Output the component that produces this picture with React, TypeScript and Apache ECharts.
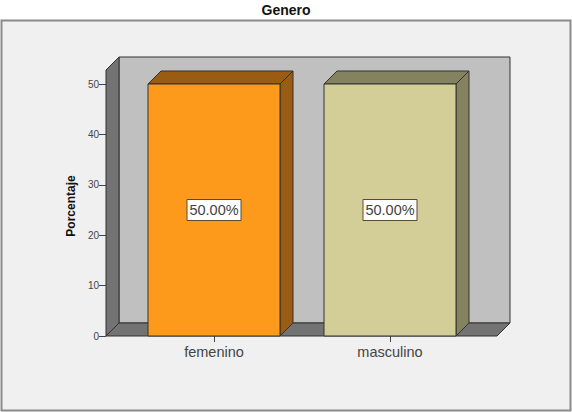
import React, { useEffect, useRef } from "react";
import * as echarts from "echarts";

const categories = ["femenino", "masculino"];
const percentages = [50, 50];
const labels = ["50.00%", "50.00%"];
const faceColors = ["#FD9A1C", "#D3CE97"];
const shadeColors = ["#9A5C12", "#85825F"];
const chartTitle = "Genero";
const yTitle = "Porcentaje";

const FONT = '"Liberation Sans", Arial, sans-serif';
const EDGE = "#333333";
const DEPTH = 13;
const WALL_PAD = 20;
const BAR_RATIO = 0.75;

export default function App() {
  const ref = useRef<HTMLDivElement>(null);
  useEffect(() => {
    const chart = echarts.init(ref.current!, undefined, { renderer: "svg" });
    const poly = (points: number[][], fill: string) => ({
      type: "polygon",
      shape: { points },
      style: { fill, stroke: EDGE, lineWidth: 1 },
    });
    chart.setOption({
      animation: false,
      backgroundColor: "#ffffff",
      title: {
        text: chartTitle,
        left: 281,
        top: -2,
        textAlign: "center",
        textStyle: { fontFamily: FONT, fontSize: 14, fontWeight: "bold", color: "#111" },
      },
      graphic: [
        {
          type: "rect",
          z: -10,
          shape: { x: 1.5, y: 20.5, width: 569, height: 390 },
          style: { fill: "#F0F0F0", stroke: "#8A8A8A", lineWidth: 2 },
        },
      ],
      grid: { left: 126, right: 94, top: 84, bottom: 76 },
      xAxis: {
        type: "category",
        data: categories,
        axisLine: { show: false },
        axisTick: { show: true, alignWithLabel: true, length: 6, lineStyle: { color: "#444", width: 1 } },
        axisLabel: { fontFamily: FONT, fontSize: 14.5, color: "#444", margin: 8 },
      },
      yAxis: {
        type: "value",
        min: 0,
        max: 50,
        interval: 10,
        offset: WALL_PAD,
        name: yTitle,
        nameLocation: "middle",
        nameGap: 21,
        nameRotate: 90,
        nameTextStyle: { fontFamily: FONT, fontSize: 12, fontWeight: "bold", color: "#111", padding: [0, 0, 0, 8] },
        splitLine: { show: false },
        axisLine: { show: false },
        axisTick: { show: true, length: 7, lineStyle: { color: "#444", width: 1 } },
        axisLabel: { fontFamily: FONT, fontSize: 10, color: "#444", margin: 7 },
      },
      series: [
        {
          type: "custom",
          z: 1,
          silent: true,
          data: [0],
          renderItem: (params: any, api: any) => {
            const c = params.coordSys;
            const l = c.x - WALL_PAD;
            const r = c.x + c.width + WALL_PAD;
            const b = c.y + c.height;
            const t = c.y - 14;
            return {
              type: "group",
              children: [
                poly([[l + DEPTH, t - DEPTH], [r + DEPTH - 1, t - DEPTH], [r + DEPTH - 1, b - DEPTH], [l + DEPTH, b - DEPTH]], "#C0C0C0"),
                poly([[l, t], [l + DEPTH, t - DEPTH], [l + DEPTH, b - DEPTH], [l, b]], "#737373"),
                poly([[l, b], [l + DEPTH, b - DEPTH], [r + DEPTH - 1, b - DEPTH], [r - 1, b]], "#737373"),
              ],
            };
          },
        },
        {
          type: "custom",
          z: 2,
          silent: true,
          data: categories.map((_, i) => [i, percentages[i]]),
          encode: { x: 0, y: 1 },
          renderItem: (params: any, api: any) => {
            const i = api.value(0);
            const top = api.coord([i, api.value(1)]);
            const base = api.coord([i, 0]);
            const w = api.size([1, 0])[0] * BAR_RATIO;
            const l = top[0] - w / 2;
            const r = top[0] + w / 2;
            const midY = (top[1] + base[1]) / 2;
            const stroke = { stroke: EDGE, lineWidth: 1 };
            return {
              type: "group",
              children: [
                poly([[l, top[1]], [l + DEPTH, top[1] - DEPTH], [r + DEPTH, top[1] - DEPTH], [r, top[1]]], shadeColors[i]),
                poly([[r, top[1]], [r + DEPTH, top[1] - DEPTH], [r + DEPTH, base[1] - DEPTH], [r, base[1]]], shadeColors[i]),
                { type: "rect", shape: { x: l, y: top[1], width: w, height: base[1] - top[1] }, style: { fill: faceColors[i], ...stroke } },
                {
                  type: "rect",
                  shape: { x: top[0] - 27, y: midY - 10.5, width: 54, height: 21 },
                  style: { fill: "#fff", stroke: "#5A4A30", lineWidth: 1 },
                },
                {
                  type: "text",
                  x: top[0],
                  y: midY,
                  style: {
                    text: labels[i],
                    fill: "#444",
                    font: `14.5px ${FONT}`,
                    textAlign: "center",
                    textVerticalAlign: "middle",
                  },
                },
              ],
            };
          },
        },
      ],
    });
    return () => chart.dispose();
  }, []);
  return <div ref={ref} style={{ position: "fixed", left: 0, top: 0, width: 572, height: 412 }} />;
}
